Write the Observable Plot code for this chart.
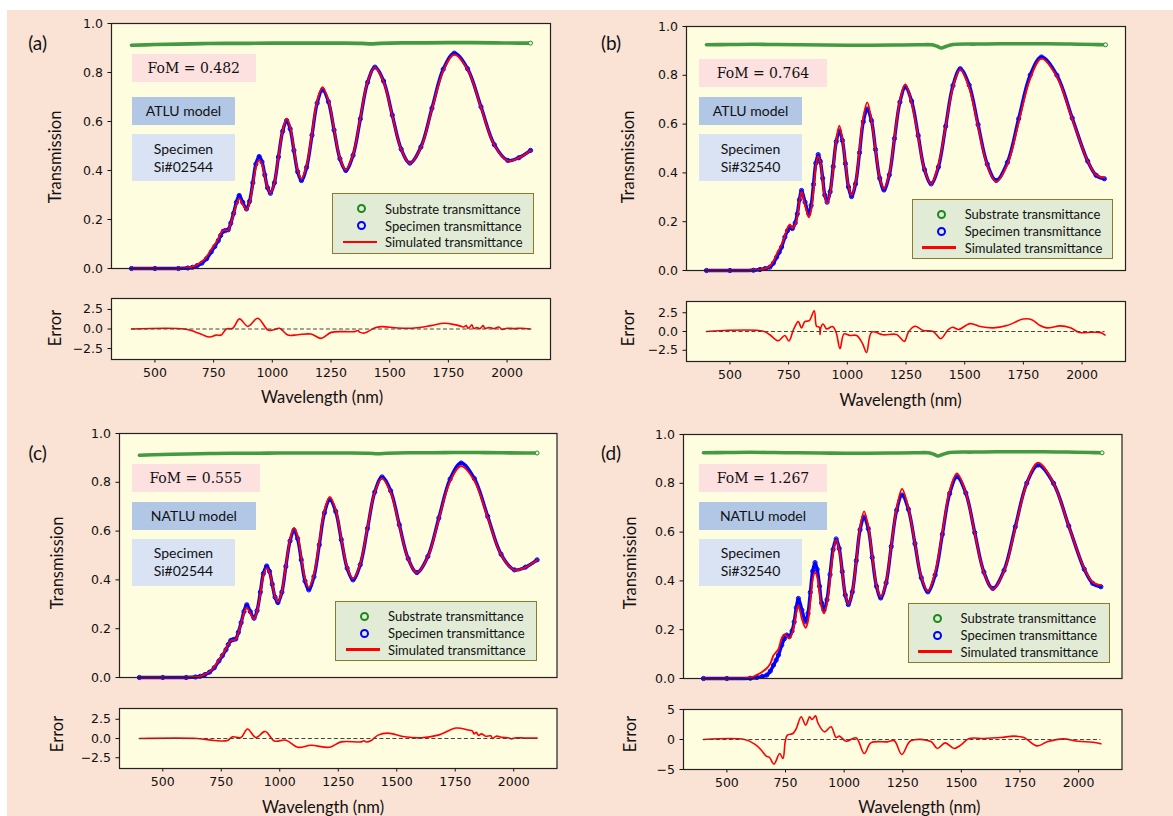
<!DOCTYPE html>
<html><head><meta charset="utf-8">
<script src="https://cdn.jsdelivr.net/npm/d3@7"></script>
<script src="https://cdn.jsdelivr.net/npm/@observablehq/plot@0.6"></script>
<style>
body{margin:0;background:#fff;}
#fig{position:relative;width:1173px;height:816px;overflow:hidden;background:#fff;}
#bg{position:absolute;left:7px;top:10px;right:0;bottom:0;background:#fae2d4;}
.txt{position:absolute;font-family:Lato,"Open Sans",sans-serif;color:#111;white-space:nowrap;transform:translate(-50%,-50%);}
.rot{transform:translate(-50%,-50%) rotate(-90deg);}
.box{position:absolute;display:flex;align-items:center;justify-content:center;text-align:center;font-family:Lato,sans-serif;font-size:14px;color:#111;line-height:18px;}
.leg{position:absolute;background:#e1ebd6;border:1.5px solid #8c7a2c;box-sizing:border-box;}
.legtxt{position:absolute;font-family:Lato,sans-serif;font-size:13px;color:#111;white-space:nowrap;transform:translateY(-50%);}
</style>
</head><body>
<div id="fig"><div id="bg"></div></div>
<script>
// ---------------- data ----------------
const WAVELENGTH_TICKS = [500, 750, 1000, 1250, 1500, 1750, 2000];
const T_TICKS = [0, 0.2, 0.4, 0.6, 0.8, 1.0];
const ERR_TICKS_SMALL = [-2.5, 0, 2.5];
const ERR_TICKS_LARGE = [-5, 0, 5];

const PANEL_LETTERS = ["(a)", "(b)", "(c)", "(d)"];
const FOM_VALUES = ["0.482", "0.764", "0.555", "1.267"];
const MODEL_NAMES = ["ATLU model", "ATLU model", "NATLU model", "NATLU model"];
const SPECIMEN_NAMES = ["Si#02544", "Si#32540", "Si#02544", "Si#32540"];
const LEGEND_LABELS = ["Substrate transmittance", "Specimen transmittance", "Simulated transmittance"];
const X_LABEL = "Wavelength (nm)";
const Y_LABEL = "Transmission";
const ERR_LABEL = "Error";

// substrate transmittance [wavelength nm, T]
const SUBSTRATE_02544 = [[400,0.911],[500,0.914],[600,0.916],[700,0.918],[800,0.919],[900,0.919],[1000,0.92],[1100,0.92],[1200,0.92],[1300,0.92],[1380,0.919],[1420,0.917],[1460,0.919],[1550,0.921],[1650,0.921],[1750,0.922],[1850,0.922],[1950,0.921],[2050,0.92],[2100,0.92]];
const SUBSTRATE_32540 = [[400,0.925],[500,0.926],[600,0.927],[700,0.926],[800,0.925],[900,0.924],[1000,0.923],[1100,0.923],[1200,0.924],[1300,0.925],[1360,0.925],[1385,0.918],[1400,0.912],[1420,0.918],[1450,0.926],[1550,0.928],[1650,0.929],[1750,0.929],[1850,0.929],[1950,0.928],[2050,0.926],[2100,0.925]];

// measured specimen transmittance
const SPECIMEN_02544 = [[400,0],[500,0],[600,0],[640,0.002],[660,0.005],[680,0.012],[700,0.022],[720,0.04],[740,0.068],[755,0.09],[770,0.114],[780,0.135],[791,0.152],[800,0.155],[812,0.158],[823,0.185],[835,0.225],[847,0.27],[859,0.298],[874,0.27],[890,0.243],[903,0.274],[917,0.35],[930,0.426],[944,0.457],[956,0.435],[968,0.382],[980,0.329],[992,0.307],[1009,0.35],[1026,0.455],[1044,0.56],[1061,0.604],[1076,0.57],[1092,0.482],[1108,0.395],[1124,0.359],[1146,0.413],[1169,0.544],[1191,0.675],[1214,0.729],[1239,0.681],[1263,0.565],[1288,0.448],[1313,0.40],[1344,0.462],[1375,0.611],[1406,0.76],[1437,0.822],[1474,0.765],[1511,0.626],[1549,0.487],[1586,0.43],[1633,0.496],[1680,0.654],[1728,0.813],[1775,0.879],[1832,0.815],[1889,0.66],[1946,0.505],[2003,0.441],[2050,0.452],[2100,0.482]];
const SPECIMEN_32540 = [[400,0],[500,0],[600,0.001],[628,0.004],[650,0.008],[670,0.014],[685,0.03],[699,0.055],[710,0.075],[720,0.096],[734,0.137],[745,0.163],[755,0.178],[766,0.172],[778,0.195],[787,0.232],[796,0.29],[805,0.328],[820,0.28],[836,0.232],[846,0.267],[856,0.353],[866,0.44],[876,0.475],[885,0.447],[895,0.378],[904,0.309],[914,0.28],[927,0.323],[940,0.426],[953,0.529],[966,0.572],[979,0.533],[992,0.438],[1005,0.342],[1018,0.303],[1035,0.355],[1052,0.483],[1068,0.61],[1085,0.662],[1103,0.614],[1120,0.496],[1138,0.378],[1156,0.33],[1179,0.392],[1201,0.541],[1224,0.69],[1247,0.752],[1274,0.694],[1302,0.553],[1329,0.413],[1357,0.355],[1388,0.424],[1419,0.591],[1450,0.758],[1481,0.827],[1519,0.76],[1557,0.598],[1596,0.436],[1634,0.369],[1682,0.443],[1730,0.622],[1779,0.801],[1827,0.875],[1893,0.80],[1958,0.625],[2024,0.448],[2060,0.39],[2095,0.376]];

// simulated transmittance, per panel
const SIMULATED_A = [[400,0],[500,0],[600,0],[640,0.003],[660,0.0075],[680,0.0165],[700,0.0285],[720,0.049],[740,0.078],[755,0.098],[770,0.122],[780,0.143],[791,0.156],[800,0.156],[812,0.1575],[823,0.184],[835,0.222],[847,0.261],[859,0.285],[874,0.262],[890,0.2396],[903,0.268],[917,0.34],[930,0.413],[944,0.4435],[956,0.426],[968,0.378],[980,0.33],[992,0.308],[1009,0.3505],[1026,0.4545],[1044,0.562],[1061,0.6115],[1076,0.5778],[1092,0.4895],[1108,0.402],[1124,0.366],[1146,0.42],[1169,0.551],[1191,0.684],[1214,0.7405],[1239,0.6865],[1263,0.569],[1288,0.451],[1313,0.403],[1344,0.465],[1375,0.6145],[1406,0.762],[1437,0.821],[1474,0.762],[1511,0.624],[1549,0.486],[1586,0.429],[1633,0.4935],[1680,0.6495],[1728,0.806],[1775,0.873],[1832,0.812],[1889,0.6575],[1946,0.5035],[2003,0.44],[2050,0.4515],[2100,0.482]];
const SIMULATED_B = [[400,0],[500,0],[600,0.001],[628,0.0038],[650,0.009],[670,0.0184],[685,0.0385],[699,0.0665],[710,0.087],[720,0.1045],[734,0.1423],[745,0.173],[755,0.189],[766,0.174],[778,0.1875],[787,0.22],[796,0.282],[805,0.323],[820,0.267],[836,0.2175],[846,0.248],[856,0.327],[866,0.428],[876,0.469],[885,0.447],[895,0.369],[904,0.304],[914,0.2765],[927,0.318],[940,0.4195],[953,0.531],[966,0.594],[979,0.539],[992,0.4415],[1005,0.347],[1018,0.3083],[1035,0.3603],[1052,0.492],[1068,0.628],[1085,0.689],[1103,0.6155],[1120,0.498],[1138,0.3815],[1156,0.3344],[1179,0.3962],[1201,0.545],[1224,0.696],[1247,0.764],[1274,0.687],[1302,0.549],[1329,0.412],[1357,0.355],[1388,0.431],[1419,0.59],[1450,0.7525],[1481,0.824],[1519,0.7495],[1557,0.591],[1596,0.431],[1634,0.364],[1682,0.435],[1730,0.608],[1779,0.7855],[1827,0.868],[1893,0.794],[1958,0.621],[2024,0.449],[2060,0.3915],[2095,0.3805]];
const SIMULATED_C = [[400,0],[500,0],[600,0],[640,0.002],[660,0.005],[680,0.013],[700,0.024],[720,0.043],[740,0.071],[755,0.093],[770,0.117],[780,0.137],[791,0.152],[800,0.153],[812,0.156],[823,0.1835],[835,0.2235],[847,0.264],[859,0.286],[874,0.263],[890,0.241],[903,0.2715],[917,0.344],[930,0.4175],[944,0.4485],[956,0.431],[968,0.382],[980,0.332],[992,0.31],[1009,0.3525],[1026,0.457],[1044,0.565],[1061,0.6135],[1076,0.5814],[1092,0.4925],[1108,0.4045],[1124,0.368],[1146,0.4218],[1169,0.553],[1191,0.685],[1214,0.7404],[1239,0.688],[1263,0.5694],[1288,0.4524],[1313,0.4044],[1344,0.4664],[1375,0.6145],[1406,0.759],[1437,0.816],[1474,0.7585],[1511,0.6225],[1549,0.4852],[1586,0.429],[1633,0.494],[1680,0.6495],[1728,0.8035],[1775,0.866],[1832,0.806],[1889,0.656],[1946,0.503],[2003,0.44],[2050,0.4515],[2100,0.4815]];
const SIMULATED_D = [[400,0],[500,0],[600,0.004],[628,0.015],[650,0.027],[670,0.042],[685,0.061],[699,0.095],[710,0.108],[720,0.121],[734,0.166],[745,0.181],[755,0.173],[766,0.164],[778,0.185],[787,0.218],[796,0.271],[805,0.30],[820,0.244],[836,0.208],[846,0.235],[856,0.316],[866,0.406],[876,0.436],[885,0.417],[895,0.357],[904,0.293],[914,0.267],[927,0.308],[940,0.406],[953,0.516],[966,0.5685],[979,0.5275],[992,0.436],[1005,0.344],[1018,0.305],[1035,0.355],[1052,0.48],[1068,0.618],[1085,0.685],[1103,0.623],[1120,0.501],[1138,0.3825],[1156,0.334],[1179,0.396],[1201,0.544],[1224,0.696],[1247,0.777],[1274,0.698],[1302,0.555],[1329,0.416],[1357,0.3585],[1388,0.435],[1419,0.598],[1450,0.768],[1481,0.841],[1519,0.762],[1557,0.596],[1596,0.434],[1634,0.3665],[1682,0.439],[1730,0.6165],[1779,0.80],[1827,0.885],[1893,0.801],[1958,0.624],[2024,0.451],[2060,0.3945],[2095,0.383]];

// error (%) per panel
const ERROR_A = [[400,0],[626,0],[669,-0.34],[700,-0.7],[733,-1.03],[761,-0.78],[782,-0.78],[804,0],[832,0.1],[860,1.3],[896,0.34],[938,1.38],[981,-0.13],[1002,-0.13],[1031,0.09],[1066,-0.78],[1109,-0.73],[1165,-0.65],[1208,-1.2],[1251,-0.43],[1308,-0.34],[1350,-0.34],[1365,-0.2],[1372,-0.4],[1393,-0.52],[1435,0.13],[1464,0.3],[1535,0.13],[1606,0.13],[1676,0.43],[1733,0.73],[1776,0.56],[1805,0.34],[1815,0.25],[1827,0.45],[1832,0.1],[1840,0.2],[1850,0.55],[1858,0.05],[1870,0.2],[1885,0.05],[1898,0.45],[1905,0.1],[1925,0.2],[1945,0.05],[1965,0.25],[1978,-0.05],[2000,0.1],[2030,0.05],[2060,0.1],[2100,0]];
const ERROR_B = [[400,0],[642,0.04],[670,-0.44],[706,-1.23],[734,-0.53],[751,-1.27],[772,0.35],[791,1.32],[805,0.48],[819,1.32],[838,1.45],[859,2.76],[869,0.7],[881,0.57],[884,-0.4],[887,0.5],[897,1.0],[912,0.35],[937,0.66],[952,-0.09],[969,-2.28],[986,-0.31],[1011,-0.53],[1040,-0.53],[1065,-1.62],[1082,-2.8],[1104,-0.09],[1153,-0.44],[1210,-0.4],[1243,-1.32],[1260,-0.09],[1288,0.7],[1324,0.13],[1366,0],[1398,-0.96],[1430,0.26],[1449,0.57],[1473,0.26],[1523,1.05],[1566,0.66],[1622,0.48],[1680,0.79],[1750,1.67],[1786,1.58],[1821,0.79],[1850,0.48],[1908,0.75],[1950,0.5],[1989,-0.13],[2040,-0.1],[2080,-0.15],[2098,-0.47]];
const ERROR_C = [[400,0],[648,0],[720,-0.26],[776,-0.26],[798,0.22],[834,0.13],[862,1.23],[898,0.13],[938,0.92],[977,-0.31],[1027,-0.22],[1076,-1.14],[1134,-0.88],[1212,-1.14],[1262,-0.44],[1348,-0.44],[1360,-0.3],[1370,-0.45],[1391,-0.26],[1420,0.44],[1462,0.7],[1534,0.22],[1605,0.09],[1677,0.44],[1755,1.36],[1805,1.1],[1823,1.0],[1830,0.6],[1840,0.8],[1850,0.4],[1862,0.6],[1880,0.3],[1902,0.35],[1910,0.0],[1925,0.3],[1950,0.15],[1975,0.1],[1990,-0.05],[2010,0.1],[2050,0.05],[2100,0.05]];
const ERROR_D = [[400,0],[576,0],[619,-0.78],[647,-1.78],[668,-2.78],[682,-3.0],[701,-4.1],[725,-2.33],[739,-3.17],[749,-0.3],[758,0.72],[782,1.0],[796,1.83],[817,3.78],[836,2.39],[853,3.78],[863,3.33],[878,3.94],[888,2.78],[916,1.28],[944,2.11],[966,0.33],[980,0.56],[1008,-0.28],[1051,0.28],[1086,-2.33],[1114,-0.56],[1185,-0.39],[1214,-0.22],[1246,-2.5],[1284,-0.22],[1370,-0.33],[1398,-1.5],[1431,-0.56],[1469,-1.5],[1497,-0.94],[1533,0.17],[1596,0.17],[1667,0.33],[1724,0.56],[1767,0.33],[1823,-1.06],[1866,-0.39],[1934,0.1],[1998,-0.3],[2060,-0.45],[2095,-0.72]];

// ---------------- layout ----------------
const PANELS = [
  {sub: SUBSTRATE_02544, spec: SPECIMEN_02544, sim: SIMULATED_A, err: ERROR_A, errTicks: ERR_TICKS_SMALL, errDomain: [-3.9, 3.9], errFmt: ".1f",
   main: [111, 23, 550, 268], errBox: [298, 359], letter: [37.6, 42], ylab: [54.6, 157], elab: [54.6, 327.5], xlab: [322, 397],
   fom: [131.7, 54.3, 255.9, 81.7], model: [131.7, 97.3, 235.2, 125], spc: [131.7, 134, 235.2, 181], leg: [332, 193, 534, 254]},
  {sub: SUBSTRATE_32540, spec: SPECIMEN_32540, sim: SIMULATED_B, err: ERROR_B, errTicks: ERR_TICKS_SMALL, errDomain: [-4.0, 4.0], errFmt: ".1f",
   main: [686, 26, 1125, 270], errBox: [301, 361], letter: [611, 42], ylab: [628.4, 157], elab: [628.4, 327.5], xlab: [900.5, 400],
   fom: [699, 59.3, 827, 86.7], model: [699, 97.3, 802, 125], spc: [699, 134, 802, 181], leg: [911.7, 198.7, 1113.3, 259]},
  {sub: SUBSTRATE_02544, spec: SPECIMEN_02544, sim: SIMULATED_C, err: ERROR_C, errTicks: ERR_TICKS_SMALL, errDomain: [-3.9, 3.9], errFmt: ".1f",
   main: [118.5, 433, 556, 677], errBox: [708, 768], letter: [37.6, 451.7], ylab: [57.2, 563], elab: [57.2, 734], xlab: [323, 807],
   fom: [131.7, 464.3, 259.6, 491.7], model: [131.7, 502.3, 255.9, 530], spc: [131.7, 539.3, 235.2, 585.7], leg: [335, 600.7, 537.4, 661]},
  {sub: SUBSTRATE_32540, spec: SPECIMEN_32540, sim: SIMULATED_D, err: ERROR_D, errTicks: ERR_TICKS_LARGE, errDomain: [-5, 5], errFmt: "d",
   main: [683, 434, 1121.5, 678], errBox: [709, 769], letter: [611, 452], ylab: [630.3, 563], elab: [630.3, 734], xlab: [919.4, 807],
   fom: [699, 464, 827, 491.7], model: [699, 502.3, 827, 530], spc: [699, 539, 802, 585.7], leg: [907.5, 602.7, 1110.2, 663.3]}
];

const XDOMAIN = [315, 2185];
const fig = document.getElementById("fig");
const px = d => d[0], py = d => d[1];
const baseStyle = {fontFamily: "'DejaVu Sans', sans-serif", fontSize: "12.5px", color: "#111", background: "transparent", overflow: "visible"};
const PLOT_BG = "#fffde0";

function place(el, left, top) {
  el.style.position = "absolute";
  el.style.left = left + "px";
  el.style.top = top + "px";
  fig.appendChild(el);
}
function text(str, x, y, size, cls) {
  const d = document.createElement("div");
  d.className = "txt" + (cls ? " " + cls : "");
  d.style.left = x + "px"; d.style.top = y + "px"; d.style.fontSize = size + "px";
  d.textContent = str;
  fig.appendChild(d);
}
function box(html, r, bg, font, size) {
  const d = document.createElement("div");
  d.className = "box";
  d.style.left = r[0] + "px"; d.style.top = r[1] + "px";
  d.style.width = (r[2] - r[0]) + "px"; d.style.height = (r[3] - r[1]) + "px";
  d.style.background = bg;
  if (font) d.style.fontFamily = font;
  if (size) d.style.fontSize = size + "px";
  d.innerHTML = html;
  fig.appendChild(d);
}

PANELS.forEach((p, i) => {
  const [x0, y0, x1, y1] = p.main;
  const ml = 50, mr = 8, mt = 8, mb = 8;
  const main = Plot.plot({
    width: (x1 - x0) + ml + mr, height: (y1 - y0) + mt + mb,
    marginLeft: ml, marginRight: mr, marginTop: mt, marginBottom: mb,
    style: baseStyle,
    x: {domain: XDOMAIN, axis: null},
    y: {domain: [0, 1], ticks: T_TICKS, tickFormat: d3.format(".1f"), tickSize: 3.5, tickPadding: 5, label: null},
    marks: [
      Plot.frame({fill: PLOT_BG, stroke: null}),
      Plot.line(p.sub, {x: px, y: py, stroke: "#2f8f2f", strokeWidth: 3.6, strokeOpacity: 0.9, curve: "catmull-rom"}),
      Plot.dot(p.sub.slice(-1), {x: px, y: py, r: 2, stroke: "#2f8f2f", fill: "#e8f4e0", strokeWidth: 1}),
      Plot.line(p.spec, {x: px, y: py, stroke: "#0000ff", strokeWidth: 3.4, curve: "catmull-rom"}),
      Plot.dot(p.spec, {x: px, y: py, r: 2.1, stroke: "#0000ff", fill: "none", strokeWidth: 1}),
      Plot.line(p.sim, {x: px, y: py, stroke: "#ff0000", strokeWidth: 1.8, curve: "catmull-rom"}),
      Plot.frame({stroke: "#222", strokeWidth: 1.2})
    ]
  });
  place(main, x0 - ml, y0 - mt);

  const [ey0, ey1] = p.errBox;
  const emb = 30;
  const err = Plot.plot({
    width: (x1 - x0) + ml + mr, height: (ey1 - ey0) + mt + emb,
    marginLeft: ml, marginRight: mr, marginTop: mt, marginBottom: emb,
    style: baseStyle,
    x: {domain: XDOMAIN, ticks: WAVELENGTH_TICKS, tickFormat: d3.format("d"), tickSize: 3.5, tickPadding: 5, label: null},
    y: {domain: p.errDomain, ticks: p.errTicks, tickFormat: d3.format(p.errFmt), tickSize: 3.5, tickPadding: 5, label: null},
    marks: [
      Plot.frame({fill: PLOT_BG, stroke: null}),
      Plot.line(p.err, {x: px, y: py, stroke: "#ff0000", strokeWidth: 1.6, curve: "catmull-rom"}),
      Plot.ruleY([0], {x1: d3.min(p.err, px), x2: d3.max(p.err, px), stroke: "#444", strokeWidth: 1.2, strokeDasharray: "4,2.5"}),
      Plot.frame({stroke: "#222", strokeWidth: 1.2})
    ]
  });
  place(err, x0 - ml, ey0 - mt);

  text(PANEL_LETTERS[i], p.letter[0], p.letter[1], 19);
  text(Y_LABEL, p.ylab[0], p.ylab[1], 16.5, "rot");
  text(ERR_LABEL, p.elab[0], p.elab[1], 16.5, "rot");
  text(X_LABEL, p.xlab[0], p.xlab[1], 16.5);

  box("FoM = " + FOM_VALUES[i], p.fom, "#fde0e0", "'DejaVu Serif', serif", 14);
  box(MODEL_NAMES[i], p.model, "#b2c6e6");
  box("Specimen<br>" + SPECIMEN_NAMES[i], p.spc, "#d9e3f4");

  const [lx0, ly0, lx1, ly1] = p.leg;
  const lg = document.createElement("div");
  lg.className = "leg";
  lg.style.left = lx0 + "px"; lg.style.top = ly0 + "px";
  lg.style.width = (lx1 - lx0) + "px"; lg.style.height = (ly1 - ly0) + "px";
  const rows = [14.5, 31.5, 48];
  const colors = ["#1a8a1a", "#0000ff"];
  rows.forEach((ry, k) => {
    if (k < 2) {
      const c = document.createElement("div");
      c.style.cssText = `position:absolute;left:${28.5 - 4.5}px;top:${ry - 4.5}px;width:5px;height:5px;border:2px solid ${colors[k]};border-radius:50%;`;
      lg.appendChild(c);
    } else {
      const l = document.createElement("div");
      l.style.cssText = `position:absolute;left:9.5px;top:${ry - 1.25}px;width:34px;height:2.5px;background:#ff0000;`;
      lg.appendChild(l);
    }
    const t = document.createElement("div");
    t.className = "legtxt";
    t.style.left = "52px"; t.style.top = ry + "px";
    t.textContent = LEGEND_LABELS[k];
    lg.appendChild(t);
  });
  fig.appendChild(lg);
});
</script>
</body></html>
